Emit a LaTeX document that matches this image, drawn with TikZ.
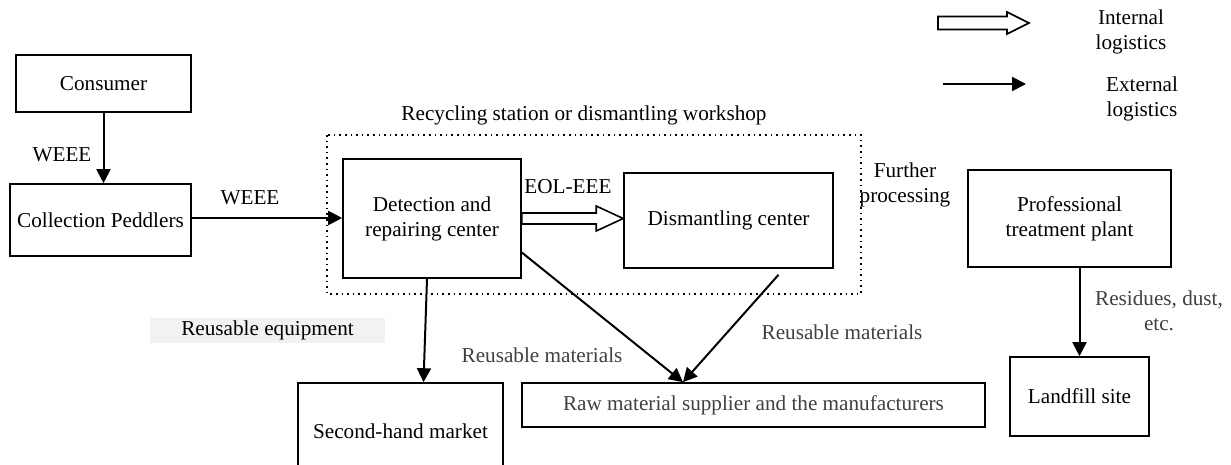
\documentclass[tikz,border=0pt]{standalone}
\usepackage{fontspec}
\setmainfont{Liberation Serif}
\usetikzlibrary{arrows.meta,calc}
\definecolor{txtgrey}{HTML}{404040}
\definecolor{lblfill}{HTML}{F2F2F2}
\tikzset{
  box/.style={draw, line width=0.8pt, inner sep=0pt, align=center},
  flow/.style={line width=1pt, -{Triangle[length=7pt,width=7pt]}},
  lbl/.style={inner sep=0pt, align=center},
  greylbl/.style={lbl, text=txtgrey},
}
% hollow block arrow: from, to, shaft half height, head half height, head length
\newcommand{\blockarrow}[5]{%
  \draw[line width=0.8pt] let \p1=(#1), \p2=(#2) in
    (\x1,\y1+#3) -- (\x2-#5,\y1+#3) -- (\x2-#5,\y1+#4) -- (\x2,\y1)
    -- (\x2-#5,\y1-#4) -- (\x2-#5,\y1-#3) -- (\x1,\y1-#3) -- cycle;}
\begin{document}
\begin{tikzpicture}[x=0.5pt,y=-0.5pt,font=\fontsize{10.6}{12.5}\selectfont]
  \useasboundingbox (0,0) rectangle (1231,465);
  % boxes
  \node[box, minimum width=87.5pt, minimum height=28.5pt] (cons) at (103.5,83.5) {Consumer};
  \node[box, minimum width=90.5pt, minimum height=36pt] (coll) at (100.5,220) {Collection Peddlers};
  \node[box, minimum width=89pt, minimum height=59.5pt] (det) at (432,218.5) {Detection and\\repairing center};
  \node[box, minimum width=104.5pt, minimum height=47.5pt] (dis) at (728.5,220.5) {Dismantling center};
  \node[box, minimum width=101.5pt, minimum height=48.5pt] (prof) at (1069.5,218.5) {Professional\\treatment plant};
  \node[box, minimum width=69.5pt, minimum height=39.5pt] (land) at (1079.5,396.5) {Landfill site};
  \node[box, minimum width=231.5pt, minimum height=22pt, text=txtgrey] (raw) at (753.5,405) {Raw material supplier and the manufacturers};
  \node[box, minimum width=102.5pt, minimum height=48pt] (shm) at (400.5,431) {Second-hand market};
  % recycling station
  \draw[dotted, line width=0.8pt] (327,135) rectangle (861,294);
  \node[lbl] (station) at (584,115) {Recycling station or dismantling workshop};
  % flows
  \draw[flow] (cons.south) -- (cons.south |- coll.north);
  \node[lbl] (weee1) at (62,155) {WEEE};
  \draw[flow] ($(coll.east)+(0,-2)$) -- ($(coll.east -| det.west)+(0,-2)$);
  \node[lbl] (weee2) at (250,198) {WEEE};
  \blockarrow{det.east}{dis.west}{2.75pt}{6.25pt}{13.5pt}
  \node[lbl] (eol) at (568,187) {EOL-EEE};
  \node[lbl] (further) at (905,185) {Further\\processing};
  \coordinate (tip) at ($(raw.north)+(-70.5,0)$);
  \draw[flow] ($(det.east)+(0,34)$) -- (tip);
  \draw[flow] ($(dis.south)+(50,6)$) -- (tip);
  \draw[flow] ($(det.south)+(-5,0)$) -- ($(shm.north)+(23,0)$);
  \draw[flow] (land.north |- prof.south) -- (land.north);
  \node[lbl, fill=lblfill, minimum width=117.5pt, minimum height=12.5pt] (reuseq) at (267.5,330.5) {Reusable equipment};
  \node[greylbl] (reusmat1) at (542,355) {Reusable materials};
  \node[greylbl] (reusmat2) at (842,332) {Reusable materials};
  \node[greylbl] (resid) at (1159,311) {Residues, dust,\\etc.};
  % legend
  \coordinate (intA) at (938,23);
  \coordinate (intB) at (1029,23);
  \blockarrow{intA}{intB}{3.25pt}{5.5pt}{11pt}
  \node[lbl] (intlbl) at (1131,32) {Internal\\logistics};
  \coordinate (extA) at (943,84);
  \coordinate (extB) at (1026,84);
  \draw[flow] (extA) -- (extB);
  \node[lbl] (extlbl) at (1142,99) {External\\logistics};
\end{tikzpicture}
\end{document}
